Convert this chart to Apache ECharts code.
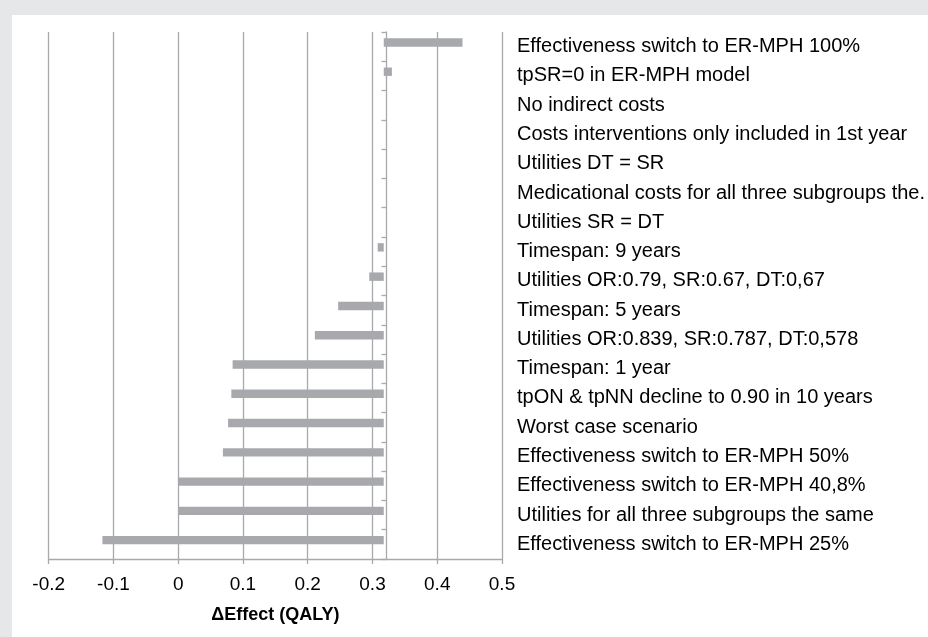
<!DOCTYPE html>
<html>
<head>
<meta charset="utf-8">
<script src="https://cdn.jsdelivr.net/npm/echarts@6/dist/echarts.min.js"></script>
<style>
html,body{margin:0;padding:0;background:#e6e7e8;width:928px;height:637px;overflow:hidden;}
#chart{position:absolute;left:12px;top:15px;width:916px;height:622px;background:#ffffff;}
</style>
</head>
<body>
<div id="chart"></div>
<script>
// Scenario labels (top to bottom)
var categories = [
  "Effectiveness switch to ER-MPH 100%",
  "tpSR=0 in ER-MPH model",
  "No indirect costs",
  "Costs interventions only included in 1st year",
  "Utilities DT = SR",
  "Medicational costs for all three subgroups the.",
  "Utilities SR = DT",
  "Timespan: 9 years",
  "Utilities OR:0.79, SR:0.67, DT:0,67",
  "Timespan: 5 years",
  "Utilities OR:0.839, SR:0.787, DT:0,578",
  "Timespan: 1 year",
  "tpON & tpNN decline to 0.90 in 10 years",
  "Worst case scenario",
  "Effectiveness switch to ER-MPH 50%",
  "Effectiveness switch to ER-MPH 40,8%",
  "Utilities for all three subgroups the same",
  "Effectiveness switch to ER-MPH 25%"
];
// Delta effect (QALY) per scenario
var values = [0.439, 0.330, 0.3174, 0.3174, 0.3174, 0.3174, 0.3174, 0.308, 0.295, 0.247, 0.211, 0.084, 0.082, 0.077, 0.069, 0.000, 0.000, -0.117];
// Base case value (bars start here)
var baseValue = 0.3174;
// X axis
var xMin = -0.2, xMax = 0.5, xStep = 0.1;
var axisTitle = "\u0394Effect (QALY)";

var FONT = "'Liberation Sans', Arial, sans-serif";
var GRAY = "#a7a9ac";
var grid = {left: 36.7, right: 422.3, top: 17, bottom: 78};
var chartW = 916;
var gridW = chartW - grid.left - grid.right;
var baseOffset = -gridW * (baseValue - xMin) / (xMax - xMin);

var chart = echarts.init(document.getElementById('chart'), null, {renderer: 'canvas'});
chart.setOption({
  animation: false,
  backgroundColor: '#ffffff',
  textStyle: {fontFamily: FONT},
  grid: grid,
  xAxis: {
    type: 'value', min: xMin, max: xMax, interval: xStep,
    axisLine: {show: true, lineStyle: {color: GRAY, width: 1.3}},
    axisTick: {show: true, length: 5, lineStyle: {color: GRAY, width: 1.3}},
    splitLine: {show: true, lineStyle: {color: GRAY, width: 1.3}},
    axisLabel: {fontSize: 19, color: '#000', margin: 16, fontFamily: FONT,
      formatter: function (v) { return String(Math.round(v * 10) / 10); }},
    name: axisTitle, nameLocation: 'middle', nameGap: 47,
    nameTextStyle: {fontSize: 18, fontWeight: 'bold', color: '#000', fontFamily: FONT}
  },
  yAxis: [{
    type: 'category', data: categories, inverse: true, position: 'left',
    offset: baseOffset,
    axisLine: {show: true, onZero: false, lineStyle: {color: GRAY, width: 1.3}},
    axisTick: {show: true, length: 5, lineStyle: {color: GRAY, width: 1.3}},
    axisLabel: {show: false},
    splitLine: {show: false}
  }, {
    type: 'category', data: categories, inverse: true, position: 'right',
    axisLine: {show: false}, axisTick: {show: false}, splitLine: {show: false},
    axisLabel: {show: true, fontSize: 20, color: '#000', margin: 15, fontFamily: FONT}
  }],
  series: [{
    type: 'custom',
    xAxisIndex: 0, yAxisIndex: 0,
    encode: {x: 0, y: 1},
    data: values.map(function (v, i) { return [v, i]; }),
    renderItem: function (params, api) {
      var idx = api.value(1);
      var p0 = api.coord([baseValue, idx]);
      var p1 = api.coord([api.value(0), idx]);
      var band = api.size([0, 1])[1];
      var h = band * 0.287;
      var x = Math.min(p0[0], p1[0]);
      var w = Math.abs(p1[0] - p0[0]);
      return {type: 'rect', shape: {x: x, y: p0[1] - h, width: w, height: h}, style: {fill: GRAY}};
    }
  }]
});
</script>
</body>
</html>
